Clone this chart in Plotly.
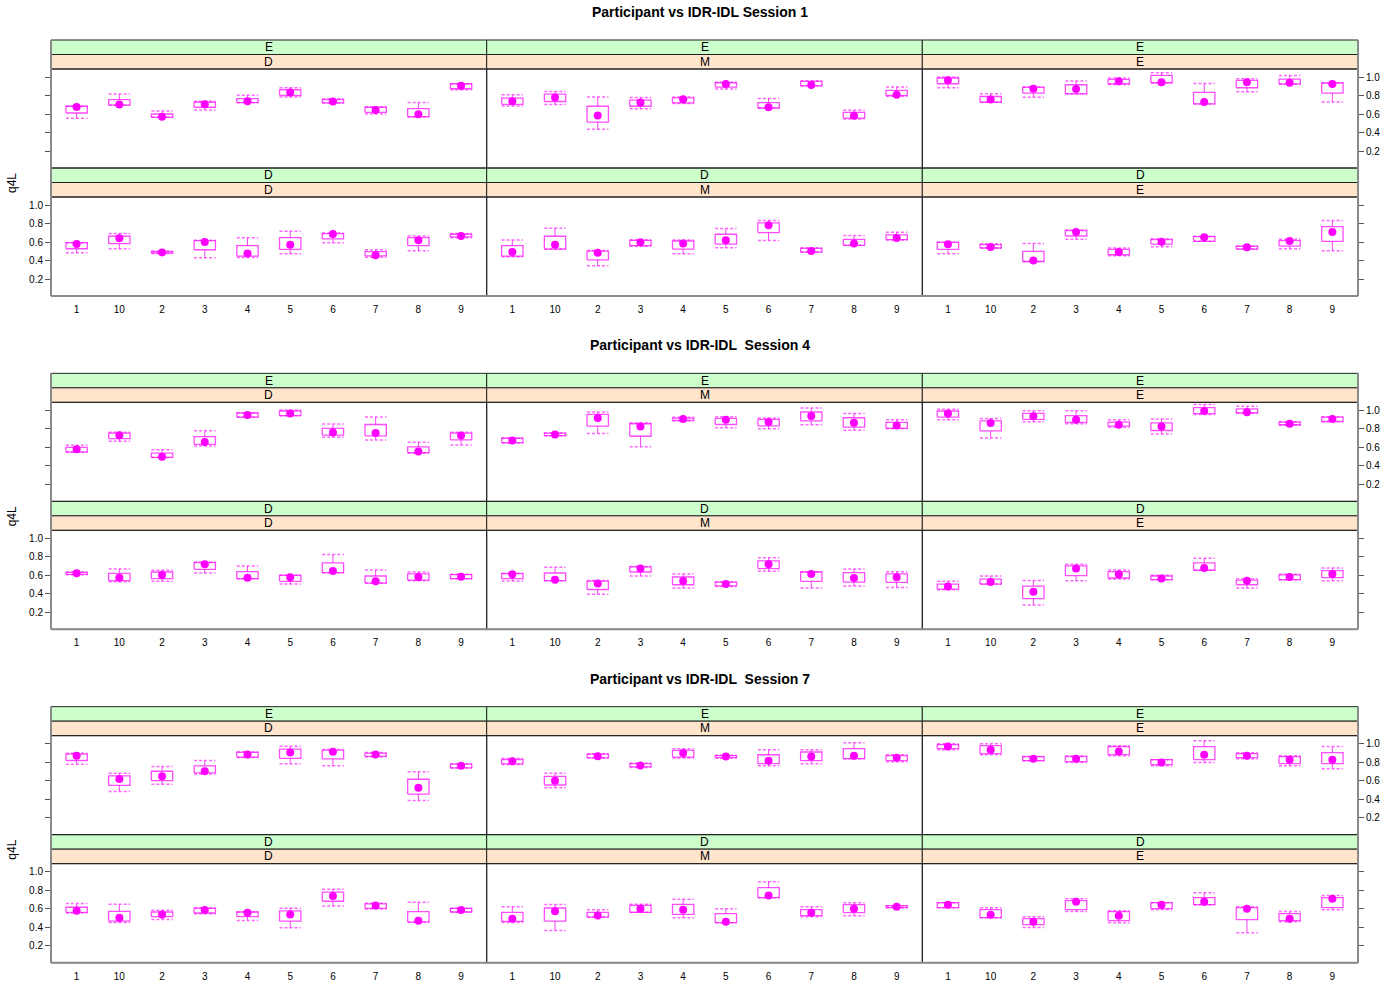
import plotly.graph_objects as go

# ---------------- data ----------------
categories = ["1", "10", "2", "3", "4", "5", "6", "7", "8", "9"]
session_names = ["Participant vs IDR-IDL Session 1",
                 "Participant vs IDR-IDL  Session 4",
                 "Participant vs IDR-IDL  Session 7"]
outer_strip = ["E", "D"]          # green strips (rows)
inner_strip = ["D", "M", "E"]     # peach strips (columns)
y_tick_vals = [0.2, 0.4, 0.6, 0.8, 1.0]
y_tick_text = ["0.2", "0.4", "0.6", "0.8", "1.0"]
y_label = "q4L"

# Session 1
s1_ed_whi = [0.684, 0.815, 0.633, 0.738, 0.804, 0.884, 0.764, 0.676, 0.724, 0.927]
s1_ed_q3 = [0.684, 0.756, 0.600, 0.727, 0.767, 0.862, 0.756, 0.673, 0.658, 0.927]
s1_ed_q1 = [0.611, 0.695, 0.564, 0.673, 0.724, 0.800, 0.720, 0.618, 0.571, 0.873]
s1_ed_wlo = [0.553, 0.695, 0.564, 0.644, 0.724, 0.785, 0.720, 0.600, 0.567, 0.862]
s1_ed_dot = [0.676, 0.702, 0.571, 0.705, 0.738, 0.833, 0.735, 0.644, 0.596, 0.905]

s1_em_whi = [0.807, 0.844, 0.785, 0.778, 0.785, 0.942, 0.767, 0.960, 0.640, 0.891]
s1_em_q3 = [0.771, 0.815, 0.684, 0.749, 0.775, 0.938, 0.724, 0.953, 0.618, 0.855]
s1_em_q1 = [0.705, 0.735, 0.513, 0.684, 0.720, 0.891, 0.665, 0.905, 0.556, 0.800]
s1_em_wlo = [0.687, 0.702, 0.436, 0.658, 0.713, 0.869, 0.665, 0.905, 0.545, 0.793]
s1_em_dot = [0.738, 0.778, 0.585, 0.724, 0.760, 0.924, 0.673, 0.913, 0.582, 0.807]

s1_ee_whi = [1.000, 0.818, 0.895, 0.956, 0.989, 1.047, 0.931, 0.982, 1.015, 0.938]
s1_ee_q3 = [0.989, 0.789, 0.887, 0.916, 0.975, 1.018, 0.833, 0.964, 0.978, 0.935]
s1_ee_q1 = [0.927, 0.727, 0.825, 0.818, 0.927, 0.938, 0.709, 0.884, 0.924, 0.825]
s1_ee_wlo = [0.884, 0.727, 0.782, 0.818, 0.920, 0.938, 0.709, 0.840, 0.924, 0.731]
s1_ee_dot = [0.964, 0.756, 0.873, 0.869, 0.953, 0.942, 0.731, 0.942, 0.938, 0.924]

s1_dd_whi = [0.593, 0.691, 0.502, 0.618, 0.647, 0.716, 0.698, 0.516, 0.665, 0.691]
s1_dd_q3 = [0.593, 0.662, 0.495, 0.615, 0.560, 0.647, 0.691, 0.495, 0.647, 0.684]
s1_dd_q1 = [0.527, 0.582, 0.480, 0.516, 0.447, 0.520, 0.633, 0.451, 0.560, 0.655]
s1_dd_wlo = [0.484, 0.527, 0.476, 0.429, 0.433, 0.473, 0.593, 0.436, 0.505, 0.647]
s1_dd_dot = [0.578, 0.640, 0.487, 0.600, 0.476, 0.571, 0.687, 0.458, 0.618, 0.665]

s1_dm_whi = [0.622, 0.749, 0.509, 0.625, 0.622, 0.745, 0.833, 0.538, 0.669, 0.705]
s1_dm_q3 = [0.560, 0.662, 0.502, 0.618, 0.611, 0.684, 0.807, 0.531, 0.629, 0.676]
s1_dm_q1 = [0.447, 0.524, 0.407, 0.560, 0.524, 0.578, 0.702, 0.491, 0.564, 0.625]
s1_dm_wlo = [0.440, 0.524, 0.342, 0.553, 0.473, 0.538, 0.615, 0.491, 0.564, 0.622]
s1_dm_dot = [0.491, 0.571, 0.484, 0.596, 0.585, 0.618, 0.782, 0.502, 0.585, 0.644]

s1_de_whi = [0.596, 0.582, 0.585, 0.731, 0.535, 0.636, 0.662, 0.556, 0.629, 0.833]
s1_de_q3 = [0.596, 0.571, 0.498, 0.724, 0.520, 0.625, 0.658, 0.553, 0.615, 0.767]
s1_de_q1 = [0.520, 0.535, 0.389, 0.665, 0.462, 0.578, 0.607, 0.524, 0.556, 0.607]
s1_de_wlo = [0.473, 0.535, 0.389, 0.629, 0.451, 0.549, 0.607, 0.524, 0.527, 0.505]
s1_de_dot = [0.575, 0.545, 0.400, 0.709, 0.491, 0.604, 0.651, 0.542, 0.611, 0.709]

# Session 4
s4_ed_whi = [0.622, 0.764, 0.575, 0.778, 0.975, 1.004, 0.851, 0.927, 0.655, 0.764]
s4_ed_q3 = [0.600, 0.753, 0.538, 0.716, 0.971, 0.993, 0.804, 0.847, 0.604, 0.753]
s4_ed_q1 = [0.549, 0.695, 0.491, 0.633, 0.927, 0.942, 0.731, 0.724, 0.542, 0.680]
s4_ed_wlo = [0.549, 0.665, 0.491, 0.615, 0.924, 0.942, 0.709, 0.680, 0.535, 0.625]
s4_ed_dot = [0.578, 0.731, 0.498, 0.658, 0.949, 0.967, 0.760, 0.756, 0.556, 0.727]

s4_em_whi = [0.702, 0.756, 0.982, 0.865, 0.924, 0.931, 0.916, 1.025, 0.967, 0.898]
s4_em_q3 = [0.698, 0.753, 0.956, 0.855, 0.916, 0.913, 0.902, 0.982, 0.920, 0.869]
s4_em_q1 = [0.651, 0.727, 0.829, 0.720, 0.891, 0.847, 0.833, 0.887, 0.818, 0.804]
s4_em_wlo = [0.647, 0.724, 0.749, 0.607, 0.884, 0.811, 0.800, 0.844, 0.785, 0.804]
s4_em_dot = [0.673, 0.738, 0.916, 0.825, 0.905, 0.898, 0.873, 0.938, 0.865, 0.836]

s4_ee_whi = [1.011, 0.913, 0.996, 0.996, 0.898, 0.905, 1.062, 1.044, 0.876, 0.931]
s4_ee_q3 = [0.993, 0.887, 0.967, 0.942, 0.873, 0.865, 1.029, 1.015, 0.873, 0.927]
s4_ee_q1 = [0.927, 0.778, 0.902, 0.869, 0.829, 0.782, 0.964, 0.971, 0.844, 0.880]
s4_ee_wlo = [0.898, 0.702, 0.876, 0.855, 0.818, 0.745, 0.956, 0.971, 0.840, 0.873]
s4_ee_dot = [0.967, 0.862, 0.935, 0.898, 0.844, 0.825, 0.993, 0.978, 0.855, 0.905]

s4_dd_whi = [0.636, 0.669, 0.655, 0.745, 0.702, 0.604, 0.825, 0.658, 0.636, 0.611]
s4_dd_q3 = [0.633, 0.622, 0.636, 0.738, 0.640, 0.600, 0.735, 0.593, 0.615, 0.607]
s4_dd_q1 = [0.611, 0.542, 0.564, 0.665, 0.564, 0.535, 0.629, 0.516, 0.549, 0.564]
s4_dd_wlo = [0.607, 0.531, 0.535, 0.625, 0.564, 0.505, 0.629, 0.516, 0.542, 0.564]
s4_dd_dot = [0.622, 0.575, 0.604, 0.720, 0.575, 0.578, 0.647, 0.535, 0.582, 0.585]

s4_dm_whi = [0.622, 0.687, 0.545, 0.695, 0.615, 0.527, 0.789, 0.640, 0.669, 0.640]
s4_dm_q3 = [0.618, 0.625, 0.538, 0.691, 0.582, 0.527, 0.756, 0.636, 0.629, 0.615]
s4_dm_q1 = [0.564, 0.542, 0.447, 0.636, 0.498, 0.487, 0.673, 0.535, 0.527, 0.524]
s4_dm_wlo = [0.538, 0.542, 0.396, 0.593, 0.462, 0.480, 0.644, 0.462, 0.484, 0.469]
s4_dm_dot = [0.611, 0.553, 0.513, 0.673, 0.538, 0.505, 0.720, 0.615, 0.571, 0.578]

s4_de_whi = [0.535, 0.593, 0.545, 0.720, 0.658, 0.600, 0.785, 0.564, 0.611, 0.680]
s4_de_q3 = [0.505, 0.560, 0.484, 0.702, 0.640, 0.593, 0.735, 0.549, 0.604, 0.651]
s4_de_q1 = [0.451, 0.505, 0.349, 0.596, 0.571, 0.553, 0.655, 0.498, 0.553, 0.575]
s4_de_wlo = [0.444, 0.505, 0.280, 0.542, 0.560, 0.553, 0.655, 0.462, 0.553, 0.542]
s4_de_dot = [0.480, 0.527, 0.422, 0.673, 0.611, 0.567, 0.680, 0.542, 0.582, 0.615]

# Session 7
s7_ed_whi = [0.895, 0.680, 0.753, 0.818, 0.913, 0.971, 0.938, 0.905, 0.695, 0.782]
s7_ed_q3 = [0.887, 0.651, 0.702, 0.760, 0.905, 0.942, 0.931, 0.898, 0.615, 0.778]
s7_ed_q1 = [0.818, 0.549, 0.600, 0.684, 0.855, 0.840, 0.836, 0.862, 0.455, 0.738]
s7_ed_wlo = [0.778, 0.484, 0.560, 0.673, 0.851, 0.782, 0.760, 0.858, 0.385, 0.738]
s7_ed_dot = [0.869, 0.618, 0.647, 0.702, 0.884, 0.905, 0.913, 0.884, 0.524, 0.760]

s7_em_whi = [0.840, 0.680, 0.891, 0.789, 0.945, 0.875, 0.935, 0.935, 1.010, 0.880]
s7_em_q3 = [0.829, 0.647, 0.887, 0.785, 0.927, 0.870, 0.880, 0.910, 0.946, 0.870]
s7_em_q1 = [0.782, 0.553, 0.847, 0.749, 0.855, 0.850, 0.784, 0.816, 0.838, 0.816]
s7_em_wlo = [0.775, 0.524, 0.847, 0.742, 0.844, 0.845, 0.760, 0.784, 0.838, 0.805]
s7_em_dot = [0.811, 0.600, 0.865, 0.764, 0.898, 0.860, 0.816, 0.860, 0.870, 0.849]

s7_ee_whi = [1.000, 1.000, 0.860, 0.870, 0.978, 0.827, 1.032, 0.903, 0.870, 0.968]
s7_ee_q3 = [0.990, 0.978, 0.860, 0.860, 0.968, 0.827, 0.968, 0.892, 0.860, 0.903]
s7_ee_q1 = [0.946, 0.892, 0.816, 0.805, 0.881, 0.773, 0.827, 0.849, 0.784, 0.784]
s7_ee_wlo = [0.935, 0.881, 0.816, 0.795, 0.870, 0.762, 0.795, 0.838, 0.762, 0.730]
s7_ee_dot = [0.968, 0.935, 0.838, 0.838, 0.914, 0.795, 0.881, 0.870, 0.827, 0.827]

s7_dd_whi = [0.655, 0.647, 0.582, 0.611, 0.564, 0.604, 0.811, 0.658, 0.669, 0.604]
s7_dd_q3 = [0.615, 0.571, 0.564, 0.604, 0.564, 0.575, 0.778, 0.651, 0.567, 0.604]
s7_dd_q1 = [0.560, 0.465, 0.513, 0.553, 0.513, 0.465, 0.680, 0.604, 0.455, 0.564]
s7_dd_wlo = [0.553, 0.451, 0.484, 0.545, 0.473, 0.393, 0.629, 0.596, 0.455, 0.564]
s7_dd_dot = [0.578, 0.502, 0.538, 0.585, 0.556, 0.538, 0.738, 0.633, 0.469, 0.585]

s7_dm_whi = [0.622, 0.644, 0.589, 0.647, 0.702, 0.600, 0.892, 0.622, 0.665, 0.632]
s7_dm_q3 = [0.560, 0.607, 0.560, 0.636, 0.647, 0.546, 0.827, 0.589, 0.643, 0.632]
s7_dm_q1 = [0.462, 0.465, 0.509, 0.560, 0.538, 0.449, 0.719, 0.524, 0.557, 0.611]
s7_dm_wlo = [0.451, 0.364, 0.509, 0.560, 0.502, 0.449, 0.719, 0.513, 0.524, 0.611]
s7_dm_dot = [0.491, 0.571, 0.527, 0.600, 0.589, 0.459, 0.741, 0.557, 0.600, 0.622]

s7_de_whi = [0.665, 0.611, 0.513, 0.708, 0.578, 0.665, 0.773, 0.622, 0.568, 0.741]
s7_de_q3 = [0.665, 0.589, 0.492, 0.686, 0.568, 0.665, 0.719, 0.611, 0.546, 0.719]
s7_de_q1 = [0.611, 0.503, 0.427, 0.589, 0.470, 0.600, 0.643, 0.481, 0.470, 0.611]
s7_de_wlo = [0.611, 0.503, 0.395, 0.568, 0.449, 0.590, 0.643, 0.340, 0.459, 0.589]
s7_de_dot = [0.643, 0.535, 0.459, 0.676, 0.524, 0.643, 0.676, 0.600, 0.492, 0.708]

# panels in order: session, row (E top / D bottom), column (D, M, E)
panels = [
    (s1_ed_whi, s1_ed_q3, s1_ed_q1, s1_ed_wlo, s1_ed_dot),
    (s1_em_whi, s1_em_q3, s1_em_q1, s1_em_wlo, s1_em_dot),
    (s1_ee_whi, s1_ee_q3, s1_ee_q1, s1_ee_wlo, s1_ee_dot),
    (s1_dd_whi, s1_dd_q3, s1_dd_q1, s1_dd_wlo, s1_dd_dot),
    (s1_dm_whi, s1_dm_q3, s1_dm_q1, s1_dm_wlo, s1_dm_dot),
    (s1_de_whi, s1_de_q3, s1_de_q1, s1_de_wlo, s1_de_dot),
    (s4_ed_whi, s4_ed_q3, s4_ed_q1, s4_ed_wlo, s4_ed_dot),
    (s4_em_whi, s4_em_q3, s4_em_q1, s4_em_wlo, s4_em_dot),
    (s4_ee_whi, s4_ee_q3, s4_ee_q1, s4_ee_wlo, s4_ee_dot),
    (s4_dd_whi, s4_dd_q3, s4_dd_q1, s4_dd_wlo, s4_dd_dot),
    (s4_dm_whi, s4_dm_q3, s4_dm_q1, s4_dm_wlo, s4_dm_dot),
    (s4_de_whi, s4_de_q3, s4_de_q1, s4_de_wlo, s4_de_dot),
    (s7_ed_whi, s7_ed_q3, s7_ed_q1, s7_ed_wlo, s7_ed_dot),
    (s7_em_whi, s7_em_q3, s7_em_q1, s7_em_wlo, s7_em_dot),
    (s7_ee_whi, s7_ee_q3, s7_ee_q1, s7_ee_wlo, s7_ee_dot),
    (s7_dd_whi, s7_dd_q3, s7_dd_q1, s7_dd_wlo, s7_dd_dot),
    (s7_dm_whi, s7_dm_q3, s7_dm_q1, s7_dm_wlo, s7_dm_dot),
    (s7_de_whi, s7_de_q3, s7_de_q1, s7_de_wlo, s7_de_dot),
]

# ---------------- layout geometry (pixels) ----------------
W, H = 1400, 1000
COL_X = [51, 486.7, 922.3, 1358]
SESSION_STEP = 333.33
BLOCK_TOP0 = 40
ROW_STEP = 128
STRIP_H = 14.5
PANEL_H = 99
Y_RANGE = [0.0162, 1.0865]
X_RANGE = [0.4, 10.6]
HW = 0.25  # half box width in category units

MAG = "#FF00FF"
GREEN = "#CCFFCC"
PEACH = "#FFE5CC"
FRAME = "#8a8a8a"
FONT = "Liberation Sans, Arial, sans-serif"


def fx(x):
    return x / W


def fy(y):
    return 1 - y / H


fig = go.Figure()
layout = dict(
    width=W, height=H, margin=dict(l=0, r=0, t=0, b=0),
    paper_bgcolor="white", plot_bgcolor="white",
    showlegend=False, hovermode=False,
    font=dict(family=FONT, size=10, color="black"),
)
shapes = []
annotations = []

for s in range(3):
    off = s * SESSION_STEP
    block_top = BLOCK_TOP0 + off
    annotations.append(dict(
        text="<b>" + session_names[s] + "</b>", x=0.5, y=fy(12 + off),
        xref="paper", yref="paper", showarrow=False, xanchor="center",
        yanchor="middle", font=dict(size=14, family=FONT, color="black")))
    annotations.append(dict(
        text=y_label, x=fx(12), y=fy(block_top + 143), xref="paper", yref="paper",
        showarrow=False, textangle=-90, xanchor="center", yanchor="middle",
        font=dict(size=12, family=FONT, color="black")))
    for r in range(2):
        st = block_top + r * ROW_STEP
        pt = st + 2 * STRIP_H
        pb = pt + PANEL_H
        for c in range(3):
            k = s * 6 + r * 3 + c
            n = k + 1
            xa = "x" if n == 1 else "x%d" % n
            ya = "y" if n == 1 else "y%d" % n
            whi, q3, q1, wlo, dot = panels[k]

            # build box, stem, cap paths from the data
            bx, by, sx, sy, cx, cy = [], [], [], [], [], []
            for i in range(len(categories)):
                p = i + 1
                bx += [p - HW, p + HW, p + HW, p - HW, p - HW, None]
                by += [q1[i], q1[i], q3[i], q3[i], q1[i], None]
                sx += [p, p, None, p, p, None]
                sy += [q3[i], whi[i], None, q1[i], wlo[i], None]
                cx += [p - HW, p + HW, None, p - HW, p + HW, None]
                cy += [whi[i], whi[i], None, wlo[i], wlo[i], None]
            fig.add_trace(go.Scatter(x=sx, y=sy, mode="lines", xaxis=xa, yaxis=ya,
                                     line=dict(color="rgba(255,0,255,0.75)", width=1)))
            fig.add_trace(go.Scatter(x=cx, y=cy, mode="lines", xaxis=xa, yaxis=ya,
                                     line=dict(color="rgba(255,0,255,0.6)", width=1.5,
                                               dash="3px,2px")))
            fig.add_trace(go.Scatter(x=bx, y=by, mode="lines", xaxis=xa, yaxis=ya,
                                     line=dict(color="rgba(255,0,255,0.7)", width=1.3)))
            fig.add_trace(go.Scatter(x=list(range(1, len(categories) + 1)), y=dot,
                                     mode="markers", xaxis=xa, yaxis=ya,
                                     marker=dict(color=MAG, size=8, line=dict(width=0))))

            xkey = "xaxis" if n == 1 else "xaxis%d" % n
            ykey = "yaxis" if n == 1 else "yaxis%d" % n
            bottom = (r == 1)
            layout[xkey] = dict(
                domain=[fx(COL_X[c]), fx(COL_X[c + 1])], anchor=ya, range=X_RANGE,
                tickmode="array", tickvals=list(range(1, len(categories) + 1)),
                ticktext=categories, showticklabels=bottom,
                ticks="outside" if bottom else "", ticklen=4,
                tickcolor="rgba(0,0,0,0)", showgrid=False, zeroline=False,
                showline=False, fixedrange=True, tickfont=dict(size=10))
            yax = dict(
                domain=[fy(pb), fy(pt)], anchor=xa, range=Y_RANGE,
                tickmode="array", tickvals=y_tick_vals, ticktext=y_tick_text,
                showgrid=False, zeroline=False, showline=False, fixedrange=True,
                tickfont=dict(size=10), ticklen=5, tickcolor="#555", tickwidth=1)
            if c == 0:
                yax.update(side="left", ticks="outside", showticklabels=bottom)
            elif c == 2:
                yax.update(side="right", ticks="outside", showticklabels=not bottom)
            else:
                yax.update(ticks="", showticklabels=False)
            layout[ykey] = yax

            x0, x1 = fx(COL_X[c]), fx(COL_X[c + 1])
            # strips
            shapes.append(dict(type="rect", xref="paper", yref="paper", x0=x0, x1=x1,
                               y0=fy(st + STRIP_H), y1=fy(st), fillcolor=GREEN,
                               line=dict(color="#222", width=1), layer="below"))
            shapes.append(dict(type="rect", xref="paper", yref="paper", x0=x0, x1=x1,
                               y0=fy(pt), y1=fy(st + STRIP_H), fillcolor=PEACH,
                               line=dict(color="#222", width=1), layer="below"))
            # panel frame
            shapes.append(dict(type="rect", xref="paper", yref="paper", x0=x0, x1=x1,
                               y0=fy(pb), y1=fy(pt), line=dict(color="#222", width=1),
                               fillcolor="rgba(0,0,0,0)", layer="above"))
            xm = (COL_X[c] + COL_X[c + 1]) / 2
            annotations.append(dict(text=outer_strip[r], x=fx(xm), y=fy(st + STRIP_H / 2),
                                    xref="paper", yref="paper", showarrow=False,
                                    xanchor="center", yanchor="middle",
                                    font=dict(size=12, family=FONT, color="black")))
            annotations.append(dict(text=inner_strip[c], x=fx(xm),
                                    y=fy(st + 1.5 * STRIP_H), xref="paper", yref="paper",
                                    showarrow=False, xanchor="center", yanchor="middle",
                                    font=dict(size=12, family=FONT, color="black")))
    # outer gray frame (left, right, bottom)
    bt = block_top
    bb = block_top + ROW_STEP + 2 * STRIP_H + PANEL_H
    for (xa0, ya0, xa1, ya1) in [(COL_X[0], bt, COL_X[0], bb), (COL_X[3], bt, COL_X[3], bb),
                                 (COL_X[0], bb, COL_X[3], bb)]:
        shapes.append(dict(type="line", xref="paper", yref="paper", x0=fx(xa0), y0=fy(ya0),
                           x1=fx(xa1), y1=fy(ya1), line=dict(color=FRAME, width=2),
                           layer="above"))

layout["shapes"] = shapes
layout["annotations"] = annotations
fig.update_layout(**layout)
fig.write_html("out.html")
